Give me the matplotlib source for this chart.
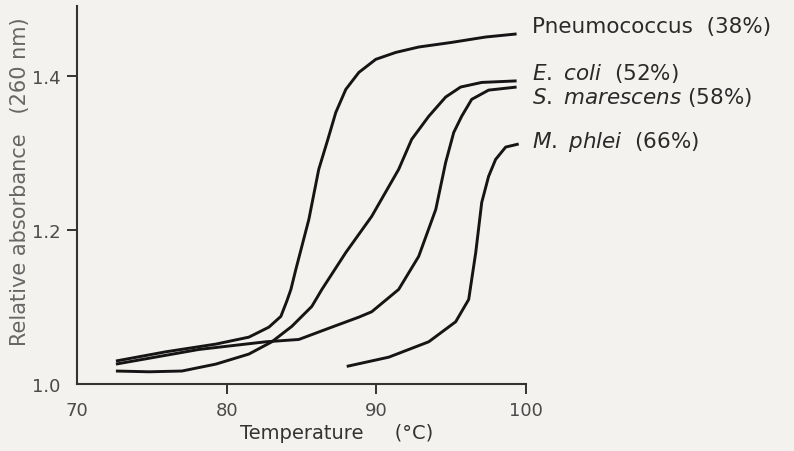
import numpy as np
import matplotlib.pyplot as plt

plt.rcParams['font.family'] = ['DejaVu Sans']
plt.rcParams['mathtext.fontset'] = 'dejavusans'

# melting curves (temperature in C, relative absorbance)
pneumo_t = [72.60, 75.94, 79.28, 81.48, 82.82, 83.62, 84.02, 84.29, 84.62, 85.49, 86.15, 86.76,
            87.29, 87.96, 88.83, 89.96, 91.30, 92.83, 95.03, 97.30, 99.37]
pneumo_a = [1.030, 1.042, 1.052, 1.061, 1.074, 1.088, 1.108, 1.123, 1.149, 1.214, 1.279, 1.318,
            1.353, 1.383, 1.405, 1.422, 1.431, 1.438, 1.444, 1.451, 1.455]

ecoli_t = [72.60, 74.81, 77.01, 79.28, 81.48, 83.02, 84.35, 85.69, 86.36, 87.96, 89.69, 91.49,
           92.36, 93.50, 94.63, 95.63, 97.04, 99.37]
ecoli_a = [1.017, 1.016, 1.017, 1.026, 1.039, 1.055, 1.075, 1.101, 1.123, 1.171, 1.218, 1.279,
           1.318, 1.348, 1.373, 1.386, 1.392, 1.394]

smar_t = [72.60, 78.14, 82.62, 84.82, 87.02, 88.83, 89.69, 91.49, 92.83, 93.97, 94.63, 95.17,
          95.70, 96.37, 97.50, 99.37]
smar_a = [1.026, 1.045, 1.055, 1.058, 1.074, 1.087, 1.094, 1.123, 1.166, 1.227, 1.288, 1.327,
          1.348, 1.370, 1.382, 1.386]

mphlei_t = [88.02, 90.83, 93.50, 95.30, 96.17, 96.64, 97.04, 97.50, 97.97, 98.64, 99.51]
mphlei_a = [1.023, 1.035, 1.055, 1.081, 1.110, 1.171, 1.236, 1.270, 1.292, 1.308, 1.312]

labels = [r'Pneumococcus  (38%)', r'$\it{E.}$ $\it{coli}$  (52%)',
          r'$\it{S.}$ $\it{marescens}$ (58%)', r'$\it{M.}$ $\it{phlei}$  (66%)']
label_y = [1.465, 1.405, 1.374, 1.316]

fig = plt.figure(figsize=(7.94, 4.52), dpi=100)
fig.patch.set_facecolor('#f3f2ef')
ax = fig.add_axes([0.097, 0.148, 0.5655, 0.836])
ax.set_facecolor('none')

for t, a in [(pneumo_t, pneumo_a), (ecoli_t, ecoli_a), (smar_t, smar_a), (mphlei_t, mphlei_a)]:
    ax.plot(t, a, color='#151515', lw=2.1, solid_capstyle='butt', solid_joinstyle='round')

for lab, yy in zip(labels, label_y):
    ax.text(100.4, yy, lab, fontsize=15.5, color='#2a2a2a', va='center', ha='left', clip_on=False)

ax.set_xlim(70, 100)
ax.set_ylim(1.0, 1.491)
ax.set_xticks([70, 80, 90, 100])
ax.set_yticks([1.0, 1.2, 1.4])
ax.set_yticklabels(['1.0', '1.2', '1.4'])
ax.tick_params(axis='both', length=7, width=1.4, color='#333333', labelsize=13,
               labelcolor='#4a4a4a', direction='out')
ax.tick_params(axis='x', pad=5)
ax.tick_params(axis='y', pad=5)
ax.xaxis.get_major_ticks()[0].tick1line.set_visible(False)
ax.yaxis.get_major_ticks()[0].tick1line.set_visible(False)

for s in ['top', 'right']:
    ax.spines[s].set_visible(False)
for s in ['left', 'bottom']:
    ax.spines[s].set_linewidth(1.5)
    ax.spines[s].set_color('#333333')

ax.set_xlabel('Temperature     (°C)', fontsize=14, color='#333333')
ax.xaxis.set_label_coords(0.578, -0.103)
ax.set_ylabel('Relative absorbance   (260 nm)', fontsize=15, color='#666666')
ax.yaxis.set_label_coords(-0.105, 0.537)

fig.savefig('out.png', dpi=100)
